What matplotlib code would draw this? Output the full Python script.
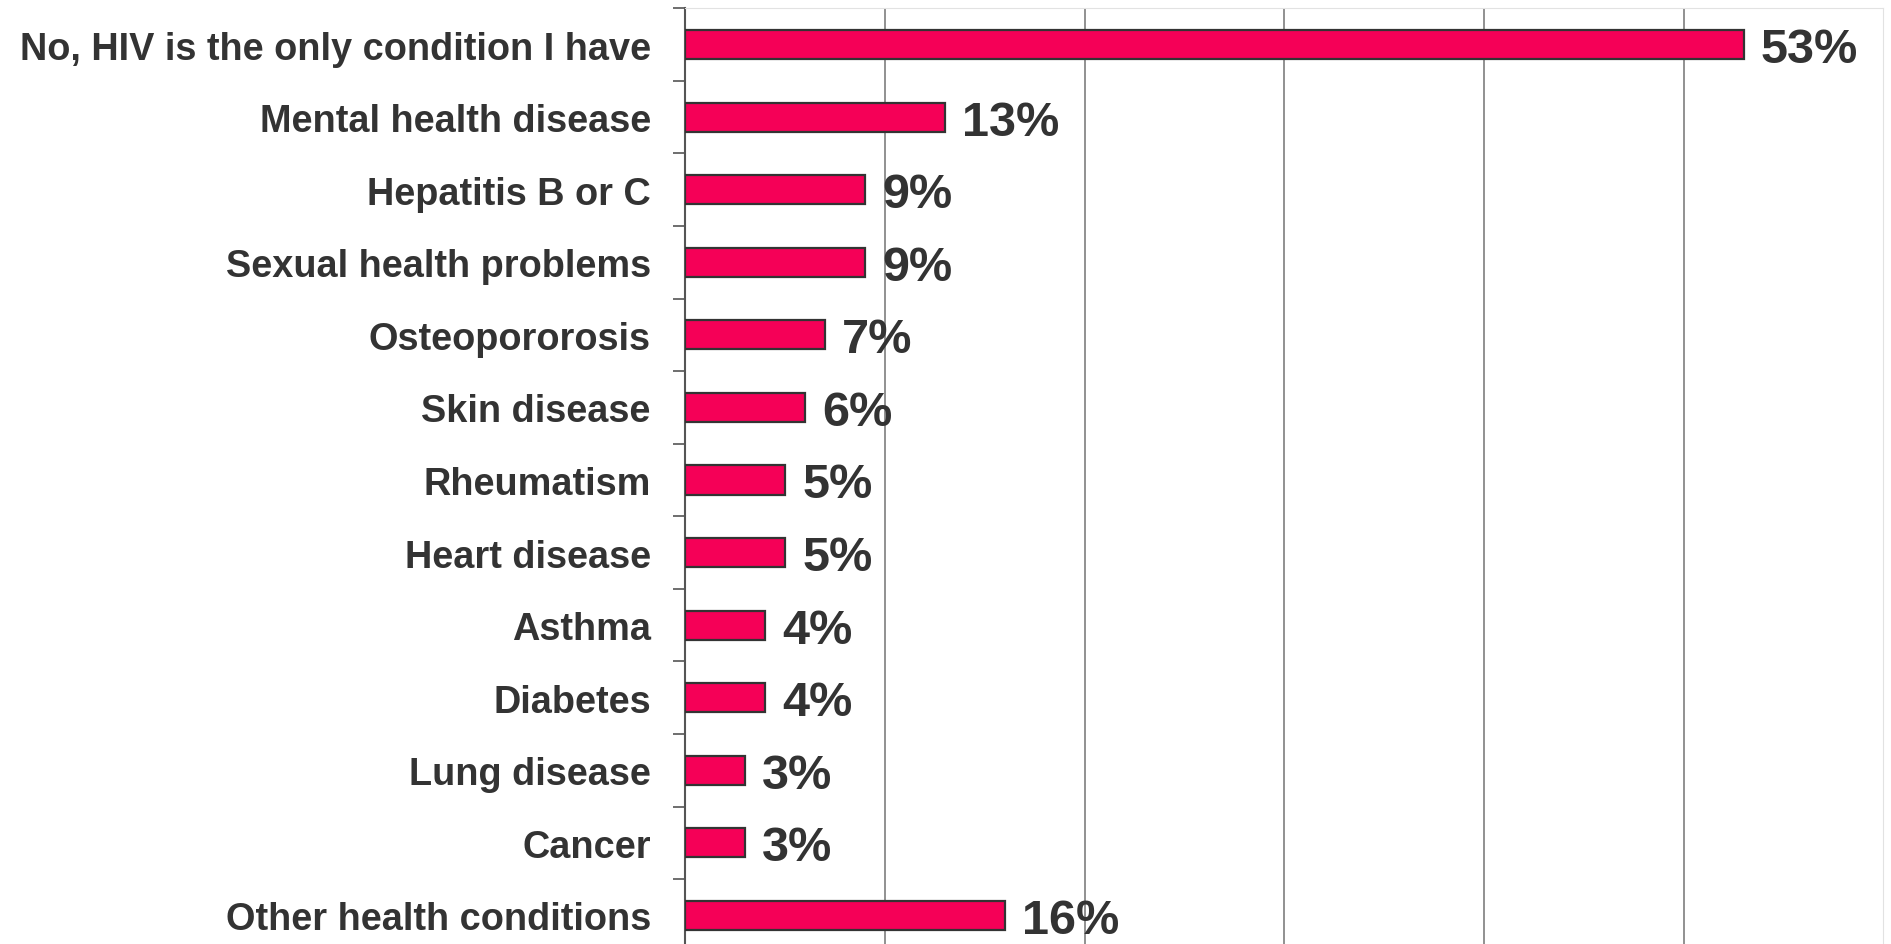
import matplotlib
matplotlib.use("Agg")
import matplotlib.pyplot as plt
import numpy as np

# survey data: other health conditions besides HIV
conditions = [
    "No, HIV is the only condition I have",
    "Mental health disease",
    "Hepatitis B or C",
    "Sexual health problems",
    "Osteopororosis",
    "Skin disease",
    "Rheumatism",
    "Heart disease",
    "Asthma",
    "Diabetes",
    "Lung disease",
    "Cancer",
    "Other health conditions",
]
percent = [53, 13, 9, 9, 7, 6, 5, 5, 4, 4, 3, 3, 16]
grid_ticks = [10, 20, 30, 40, 50]

TEXT = "#333333"
BAR = "#F50057"
VAL_SIZE = 35

plt.rcParams["font.family"] = ["Liberation Sans", "DejaVu Sans"]

fig = plt.figure(figsize=(18.91, 9.45), dpi=100)
# plot area runs a little past the bottom edge, as in the original crop
ax = fig.add_axes([0.3625, -0.00815, 0.6335, 0.99831])

y = np.arange(len(conditions))
ax.barh(y, percent, height=0.4, color=BAR, edgecolor="#333333", linewidth=1.6, zorder=3)

# baseline-anchored so the digits sit centred on the bar
drop = 0.358 * VAL_SIZE * 100 / 72
for yi, v in zip(y, percent):
    ax.annotate(f"{v}%", (v, yi), xytext=(17, -drop), textcoords="offset pixels",
                ha="left", va="baseline", fontsize=VAL_SIZE, fontweight="bold", color=TEXT)

ax.set_xlim(0, 60)
ax.set_ylim(len(conditions) - 0.5, -0.5)

ax.set_xticks(grid_ticks)
ax.tick_params(axis="x", length=0, labelbottom=False)
ax.xaxis.grid(True, color="#888888", linewidth=1.3, zorder=0)

ax.set_yticks(y)
ax.set_yticklabels(conditions, fontsize=27.3, fontweight="bold", color=TEXT)
ax.tick_params(axis="y", which="major", length=0, pad=25)
ax.set_yticks(np.arange(len(conditions) + 1) - 0.5, minor=True)
ax.tick_params(axis="y", which="minor", length=9, width=1.2, color="#555555")

ax.spines["left"].set_color("#555555")
ax.spines["left"].set_linewidth(1.5)
ax.spines["top"].set_color("#e2e2e2")
ax.spines["right"].set_color("#e2e2e2")
ax.spines["bottom"].set_visible(False)

fig.savefig("out.png", dpi=100)
